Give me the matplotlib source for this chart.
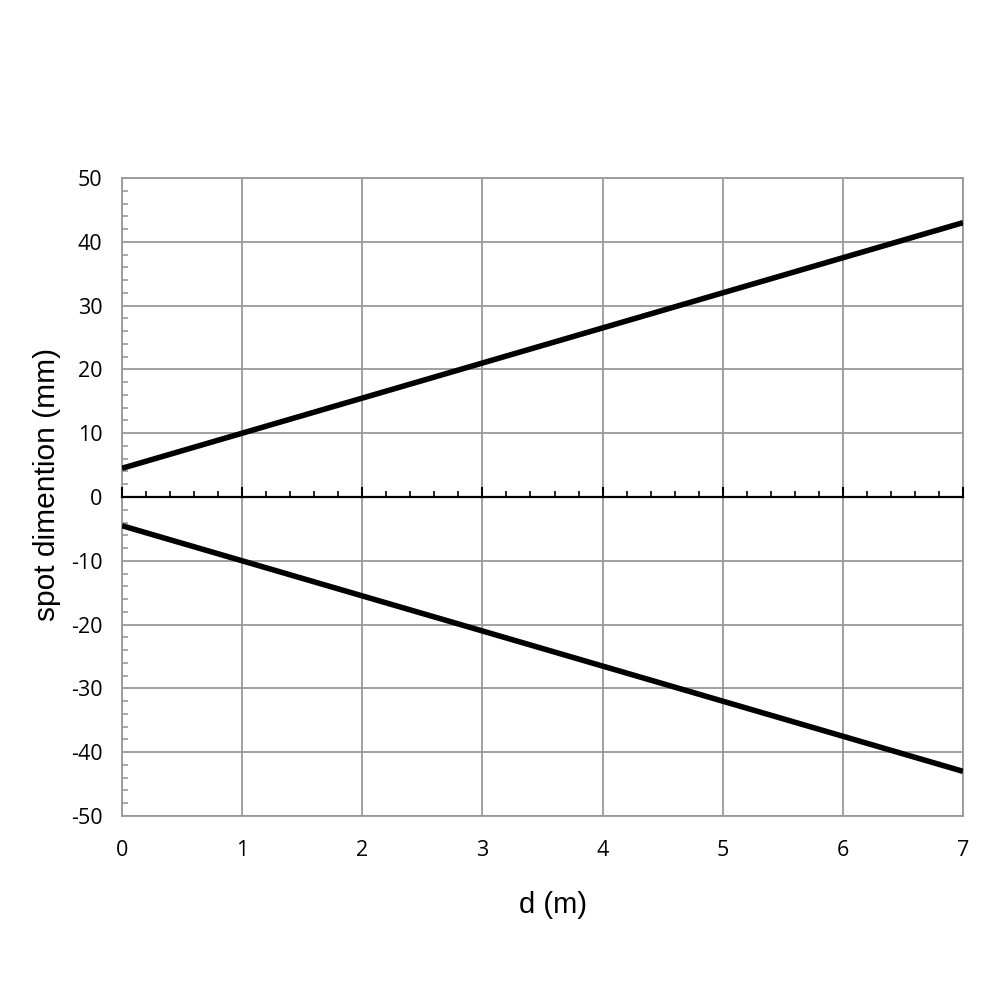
import numpy as np
import matplotlib.pyplot as plt
from matplotlib.ticker import MultipleLocator, NullFormatter

plt.rcParams['axes.unicode_minus'] = False

# data
d = [0, 1, 2, 3, 4, 5, 6, 7]
upper = [4.5, 10, 15.5, 21, 26.5, 32, 37.5, 43]
lower = [-4.5, -10, -15.5, -21, -26.5, -32, -37.5, -43]

grey = '#999999'

fig = plt.figure(figsize=(10, 10), dpi=100)
ax = fig.add_axes([0.122, 0.184, 0.841, 0.638])

ax.plot(d, upper, color='black', lw=4, solid_capstyle='butt', zorder=4)
ax.plot(d, lower, color='black', lw=4, solid_capstyle='butt', zorder=4)

ax.set_xlim(0, 7)
ax.set_ylim(-50, 50)
ax.xaxis.set_major_locator(MultipleLocator(1))
ax.yaxis.set_major_locator(MultipleLocator(10))
ax.yaxis.set_minor_locator(MultipleLocator(2))

ax.grid(True, which='major', color=grey, lw=1.3)
ax.set_axisbelow(True)
for s in ax.spines.values():
    s.set_color(grey)
    s.set_linewidth(1.3)

ax.tick_params(axis='x', which='both', length=0, pad=17)
ax.tick_params(axis='y', which='major', length=0, pad=14)
ax.tick_params(axis='y', which='minor', length=4, width=1.2, direction='in', color=grey)
for lab in ax.get_xticklabels() + ax.get_yticklabels():
    lab.set_family('Open Sans')
    lab.set_fontsize(15.5)

# zero line with its own ticks (twin axes, bottom spine moved to y=0)
ax2 = ax.twiny()
ax2.set_xlim(0, 7)
for k in ['top', 'left', 'right']:
    ax2.spines[k].set_visible(False)
ax2.spines['bottom'].set_position(('axes', 0.5))
ax2.spines['bottom'].set_color('black')
ax2.spines['bottom'].set_linewidth(1.6)
ax2.spines['bottom'].set_zorder(5)
ax2.xaxis.set_ticks_position('bottom')
ax2.xaxis.set_major_locator(MultipleLocator(1))
ax2.xaxis.set_minor_locator(MultipleLocator(0.2))
ax2.xaxis.set_major_formatter(NullFormatter())
ax2.tick_params(which='major', direction='in', length=7, width=1.5, color='black')
ax2.tick_params(which='minor', direction='in', length=4, width=1.2, color='black')

ax.set_xlabel('d (m)', family='Liberation Sans', fontsize=21)
ax.xaxis.set_label_coords(0.512, -0.117)
ax.set_ylabel('spot dimention (mm)', family='Liberation Sans', fontsize=21.5)
ax.yaxis.set_label_coords(-0.072, 0.52)

fig.savefig('out.png', dpi=100)
